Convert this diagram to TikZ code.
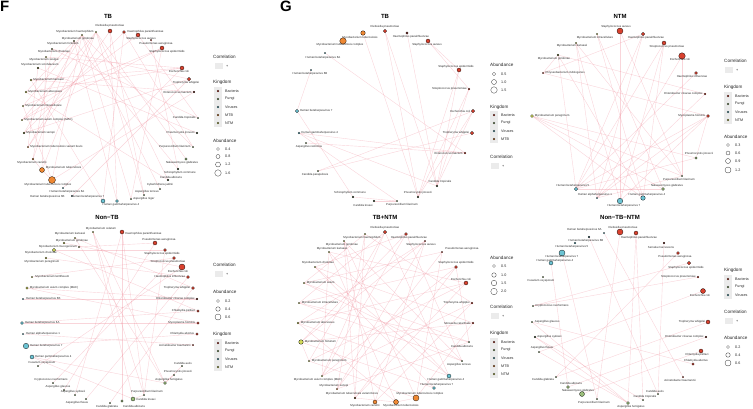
\documentclass[tikz,border=0pt]{standalone}
\usepackage{fontspec}
\setmainfont{Liberation Sans}
\usetikzlibrary{backgrounds}
\definecolor{bac}{HTML}{D9412E}
\definecolor{mtb}{HTML}{EE8833}
\definecolor{ntm}{HTML}{D4DC5A}
\definecolor{vir}{HTML}{6BC3D3}
\definecolor{fun}{HTML}{9BBE7B}
\definecolor{edgec}{HTML}{EC7F8E}
\definecolor{keybg}{HTML}{EBEBEB}
\tikzset{
 nd/.style={circle,draw=black,line width=0.25pt,inner sep=0pt},
 lab/.style={font=\fontsize{2.85}{3.4}\selectfont,inner sep=0.2pt,text=black!85},
 edge/.style={draw=edgec,line width=0.4pt,opacity=0.33},
 ptitle/.style={font=\bfseries\fontsize{6}{7}\selectfont,inner sep=0},
 plabel/.style={font=\bfseries\fontsize{15}{16}\selectfont,anchor=north west,inner sep=0},
 legt/.style={font=\fontsize{4.6}{5}\selectfont,anchor=west,inner sep=0,text=black!85},
 legi/.style={font=\fontsize{3.7}{4.4}\selectfont,anchor=west,inner sep=0,text=black!85},
 akey/.style={circle,draw=black!80,line width=0.3pt,fill=white,inner sep=0pt},
}
\newcommand\Nd[9]{\node[nd,minimum size=#4pt,fill=#5] (#1) at (#2,#3) {};\node[lab,anchor=#8] (#1l) at (#6,#7) {#9};}
\newcommand\Edges[1]{\begin{scope}[on background layer]\foreach \xa/\xb in {#1}{\draw[edge] (\xa) -- (\xb);}\end{scope}}
\newcommand\KK[5]{\node[nd,minimum size=2pt,fill=#4] (#1) at (#2,#3) {};\node[legi] (#1l) at (#2+7,#3) {#5};}
\newcommand\AK[5]{\node[akey,minimum size=#4pt] (#1) at (#2,#3) {};\node[legi] (#1l) at (#2+7,#3) {#5};}
\newcommand\CK[3]{\node[fill=keybg,minimum width=8pt,minimum height=6pt,inner sep=0] (#1) at (#2,#3) {};\node[legi] (#1l) at (#2+7,#3) {+};}
\begin{document}
\begin{tikzpicture}[x=1pt,y=-1pt]
\useasboundingbox (0,0) rectangle (753,408);
\node[plabel] (pF) at (0,1) {F};
\node[plabel] (pG) at (280,1) {G};
% ---------------- F: TB
\node[ptitle] (tA) at (108,16) {TB};
\Nd{a1}{110}{31}{4}{bac}{110}{26}{center}{Klebsiella pneumoniae}
\Nd{a2}{96}{32}{1.5}{ntm}{94}{32}{east}{Mycobacterium haemophilum}
\Nd{a3}{124}{32}{3}{bac}{127}{32}{west}{Haemophilus parainfluenzae}
\Nd{a4}{82}{35}{1.5}{ntm}{78}{39}{center}{Mycobacterium gordonae}
\Nd{a5}{138}{35}{4}{bac}{141}{39}{center}{Staphylococcus aureus}
\Nd{a6}{151}{40}{1.5}{bac}{156}{44}{center}{Pseudomonas aeruginosa}
\Nd{a7}{162}{48}{4}{bac}{167}{52}{center}{Staphylococcus epidermidis}
\Nd{a8}{74}{41}{1.2}{ntm}{63}{44}{center}{Mycobacterium fortuitum}
\Nd{a9}{52}{49}{1.2}{ntm}{54}{52}{center}{Mycobacterium chelonae}
\Nd{a10}{46}{57}{1.5}{ntm}{44}{60}{center}{Mycobacterium szulgai}
\Nd{a11}{38}{68}{1.8}{ntm}{40}{65}{center}{Mycobacterium scrofulaceum}
\Nd{a12}{31}{80}{2}{ntm}{33}{80}{west}{Mycobacterium kansasii}
\Nd{a13}{26}{92}{2}{ntm}{28}{92}{west}{Mycobacterium abscessus}
\Nd{a14}{23}{106}{1.5}{ntm}{25}{106}{west}{Mycobacterium intracellulare}
\Nd{a15}{22}{120}{1.5}{ntm}{24}{120}{west}{Mycobacterium avium complex (MAC)}
\Nd{a16}{24}{133}{1.8}{ntm}{26}{133}{west}{Mycobacterium xenopi}
\Nd{a17}{28}{147}{1.5}{mtb}{30}{147}{west}{Mycobacterium tuberculosis variant bovis}
\Nd{a18}{33}{159}{2}{mtb}{32}{163}{center}{Mycobacterium canettii}
\Nd{a19}{42}{170}{5}{mtb}{45.5}{168}{west}{Mycobacterium tuberculosis}
\Nd{a20}{52}{180}{7}{mtb}{48}{184.5}{center}{Mycobacterium tuberculosis complex}
\Nd{a21}{63}{188}{1.5}{vir}{67}{192}{center}{Human betaherpesvirus 6A}
\Nd{a22}{72}{196}{1.2}{vir}{65}{197}{east}{Human betaherpesvirus 6B}
\Nd{a23}{103}{201}{4}{vir}{88}{197}{center}{Human betaherpesvirus 7}
\Nd{a24}{117}{201}{3}{vir}{121}{205}{center}{Human gammaherpesvirus 4}
\Nd{a25}{131}{199}{1.5}{fun}{133}{199}{west}{Aspergillus niger}
\Nd{a26}{144}{195}{1.5}{fun}{147}{192}{center}{Aspergillus terreus}
\Nd{a27}{160}{189}{1.5}{fun}{160}{185}{center}{Cyberlindnera jadinii}
\Nd{a28}{168}{180}{1.8}{fun}{171}{177}{center}{Candida albicans}
\Nd{a29}{178}{169}{1.8}{fun}{180}{172.5}{center}{Schizophyllum commune}
\Nd{a30}{186}{159}{2.5}{fun}{182}{163}{center}{Nakaseomyces glabratus}
\Nd{a31}{193}{147}{1.5}{fun}{191}{147}{east}{Purpureocillium lilacinum}
\Nd{a32}{197}{133}{1.8}{fun}{195}{133}{east}{Pneumocystis jirovecii}
\Nd{a33}{198}{118}{1.5}{fun}{196}{118}{east}{Candida tropicalis}
\Nd{a34}{194}{92}{1.8}{bac}{192}{92}{east}{Enterococcus faecium}
\Nd{a35}{189}{79}{3.5}{bac}{186}{83}{center}{Tropheryma whipplei}
\Nd{a36}{182}{68}{4}{bac}{179}{71.5}{center}{Escherichia coli}
\Edges{a2/a28,a2/a26,a2/a30,a4/a25,a4/a27,a4/a31,a8/a29,a8/a24,a9/a33,a9/a35,a10/a36,a11/a32,a12/a34,a12/a23,a13/a36,a13/a28,a14/a20,a15/a5,a15/a7,a16/a3,a17/a1,a2/a19,a4/a20,a8/a18,a1/a26,a3/a31,a5/a33,a7/a25,a36/a21,a35/a22,a34/a20,a1/a24,a3/a23,a6/a29,a7/a14,a36/a12,a35/a16,a11/a17,a9/a18,a10/a19,a2/a15,a4/a14,a19/a20,a18/a19,a2/a17,a4/a16,a8/a13}
% legend F TB
\node[legt] (LAc) at (213,57) {Correlation};
\CK{LAck}{219}{66}
\node[legt] (LAk) at (213,82) {Kingdom};
\fill[keybg] (214,87) rectangle (222,127);
\KK{LAk1}{218}{91}{bac}{Bacteria}
\KK{LAk2}{218}{99}{fun}{Fungi}
\KK{LAk3}{218}{107}{vir}{Viruses}
\KK{LAk4}{218}{115}{mtb}{MTB}
\KK{LAk5}{218}{123}{ntm}{NTM}
\node[legt] (LAa) at (213,141) {Abundance};
\AK{LAa1}{218}{149}{3}{0.4}
\AK{LAa2}{218}{156.5}{4}{0.8}
\AK{LAa3}{218}{164.5}{5}{1.2}
\AK{LAa4}{218}{173}{6.5}{1.6}
% ---------------- F: Non-TB
\node[ptitle] (tB) at (107,217) {Non−TB};
\Nd{b1}{93}{232}{1.5}{ntm}{101}{228.5}{center}{Mycobacterium celatum}
\Nd{b2}{122}{232}{4}{bac}{125}{234}{west}{Haemophilus parainfluenzae}
\Nd{b3}{75}{238}{1.5}{ntm}{70}{234}{center}{Mycobacterium kansasii}
\Nd{b4}{64}{243}{2}{ntm}{72}{241}{center}{Mycobacterium gordonae}
\Nd{b5}{79}{247}{1.2}{ntm}{58}{247}{center}{Mycobacterium mucogenicum}
\Nd{b6}{54}{250}{3.5}{ntm}{41}{253}{center}{Mycobacterium chelonae}
\Nd{b7}{46}{258}{2}{ntm}{42}{262}{center}{Mycobacterium peregrinum}
\Nd{b8}{32}{277}{1.5}{ntm}{35}{277}{west}{Mycobacterium lentiflavum}
\Nd{b9}{27}{288}{2.5}{ntm}{29.5}{288}{west}{Mycobacterium avium complex (MAC)}
\Nd{b10}{23}{299}{1.5}{vir}{25.5}{299}{west}{Human betaherpesvirus 6B}
\Nd{b11}{22}{323}{3}{vir}{24.5}{323}{west}{Human betaherpesvirus 6A}
\Nd{b12}{23}{334}{1.5}{vir}{25.5}{334}{west}{Human alphaherpesvirus 1}
\Nd{b13}{26}{346}{5.5}{vir}{29.5}{346}{west}{Human betaherpesvirus 7}
\Nd{b14}{32}{357}{4}{vir}{34.5}{357}{west}{Human gammaherpesvirus 4}
\Nd{b15}{38}{366}{1.5}{fun}{42}{362.5}{center}{Fusarium oxysporum}
\Nd{b16}{53}{383}{1.5}{fun}{51}{380}{center}{Cryptococcus neoformans}
\Nd{b17}{64}{390}{1.5}{fun}{58}{387}{center}{Aspergillus glaucus}
\Nd{b18}{75}{395}{1.5}{fun}{73}{392}{center}{Aspergillus sydowii}
\Nd{b19}{86}{399}{1.5}{fun}{77}{403}{center}{Aspergillus flavus}
\Nd{b20}{110}{403}{1.5}{fun}{107}{406.5}{center}{Candida glabrata}
\Nd{b21}{122}{401}{2.5}{fun}{134}{406.5}{center}{Candida albicans}
\Nd{b22}{133}{399}{4}{fun}{136}{399}{west}{Candida krusei}
\Nd{b23}{144}{395}{1.5}{fun}{147}{392}{center}{Purpureocillium lilacinum}
\Nd{b24}{165}{383}{3}{fun}{169}{380}{center}{Aspergillus fumigatus}
\Nd{b25}{174}{375}{1.5}{fun}{178}{372}{center}{Pneumocystis jirovecii}
\Nd{b26}{182}{366}{1.5}{fun}{183}{363}{center}{Candida auris}
\Nd{b27}{193}{345}{1.5}{bac}{191}{345}{east}{Acinetobacter baumannii}
\Nd{b28}{197}{334}{2.5}{bac}{194.5}{334}{east}{Chlamydia abortus}
\Nd{b29}{198}{323}{2.5}{bac}{195.5}{323}{east}{Mycoplasma hominis}
\Nd{b30}{198}{311}{2.5}{bac}{195.5}{311}{east}{Chlamydia psittaci}
\Nd{b31}{197}{299}{1.8}{bac}{195}{299}{east}{Enterobacter cloacae complex}
\Nd{b32}{193}{288}{3}{bac}{190.5}{288}{east}{Tropheryma whipplei}
\Nd{b33}{188}{277}{3}{bac}{185.5}{277}{east}{Haemophilus influenzae}
\Nd{b34}{182}{267}{6}{bac}{178}{271.5}{center}{Escherichia coli}
\Nd{b35}{174}{258}{3}{bac}{168}{262}{center}{Streptococcus pneumoniae}
\Nd{b36}{165}{250}{3}{bac}{162}{254}{center}{Staphylococcus epidermidis}
\Nd{b37}{155}{243}{4}{bac}{159}{240}{center}{Pseudomonas aeruginosa}
\Edges{b1/b23,b1/b24,b2/b23,b2/b21,b3/b32,b4/b34,b6/b36,b6/b30,b7/b33,b9/b29,b9/b31,b11/b29,b11/b30,b13/b28,b12/b27,b14/b24,b14/b22,b37/b17,b35/b16,b34/b15,b36/b23,b1/b22,b3/b24,b8/b35,b10/b31,b5/b37,b2/b18,b33/b19,b32/b20,b26/b24,b22/b23,b24/b25}
\node[legt] (LBc) at (213,265) {Correlation};
\CK{LBck}{219}{274}
\node[legt] (LBa) at (213,292) {Abundance};
\AK{LBa1}{218}{301}{3}{0.2}
\AK{LBa2}{218}{309}{4.5}{0.4}
\AK{LBa3}{218}{317}{6}{0.6}
\node[legt] (LBk) at (213,334) {Kingdom};
\fill[keybg] (214,339) rectangle (222,371);
\KK{LBk1}{218}{343}{bac}{Bacteria}
\KK{LBk2}{218}{351}{fun}{Fungi}
\KK{LBk3}{218}{359}{vir}{Viruses}
\KK{LBk4}{218}{367}{ntm}{NTM}
% ---------------- G: TB
\node[ptitle] (tC) at (385,16) {TB};
\Nd{c1}{385}{31}{3.5}{bac}{385}{27}{center}{Klebsiella pneumoniae}
\Nd{c2}{363}{33}{4.5}{mtb}{360}{37.5}{center}{Mycobacterium tuberculosis}
\Nd{c3}{343}{41}{6.5}{mtb}{340}{45}{center}{Mycobacterium tuberculosis complex}
\Nd{c4}{407}{33}{2.2}{bac}{411}{37}{center}{Haemophilus parainfluenzae}
\Nd{c5}{428}{41}{4}{bac}{427}{45}{center}{Staphylococcus aureus}
\Nd{c6}{325}{53}{1.5}{vir}{323}{58}{center}{Human betaherpesvirus 6A}
\Nd{c7}{311}{70}{1.5}{vir}{310}{74}{center}{Human betaherpesvirus 6B}
\Nd{c8}{459}{70}{4}{bac}{456}{67}{center}{Staphylococcus epidermidis}
\Nd{c9}{469}{89}{2}{bac}{467}{89}{east}{Streptococcus pneumoniae}
\Nd{c10}{297}{111}{3.5}{vir}{299.5}{111}{west}{Human betaherpesvirus 7}
\Nd{c11}{473}{111}{3.5}{bac}{470.5}{111}{east}{Escherichia coli}
\Nd{c12}{299}{133}{2}{vir}{301}{133}{west}{Human gammaherpesvirus 4}
\Nd{c13}{472}{133}{3.5}{bac}{469.5}{133}{east}{Tropheryma whipplei}
\Nd{c14}{306}{143}{1.5}{fun}{309}{147}{center}{Aspergillus restrictus}
\Nd{c15}{465}{153}{2}{bac}{463}{153}{east}{Enterococcus faecium}
\Nd{c16}{318}{171}{1.5}{fun}{315}{174.5}{center}{Candida parapsilosis}
\Nd{c17}{437}{186}{1.8}{fun}{440}{182}{center}{Candida tropicalis}
\Nd{c18}{353}{197}{1.8}{fun}{350}{193}{center}{Schizophyllum commune}
\Nd{c19}{418}{197}{1.8}{fun}{418}{193}{center}{Pneumocystis jirovecii}
\Nd{c20}{374}{201}{1.8}{fun}{363}{205}{center}{Candida krusei}
\Nd{c21}{397}{201}{1.5}{fun}{402}{205}{center}{Purpureocillium lilacinum}
\Edges{c1/c19,c1/c17,c4/c17,c5/c9,c5/c8,c6/c15,c7/c10,c8/c17,c8/c19,c9/c17,c11/c17,c11/c19,c12/c15,c12/c21,c12/c17,c10/c18,c13/c16,c15/c14,c11/c16,c18/c21,c20/c21,c9/c19,c2/c19}
\node[legt] (LCa) at (490,65) {Abundance};
\AK{LCa1}{494}{74}{3.5}{0.5}
\AK{LCa2}{494}{82}{5}{1.0}
\AK{LCa3}{494}{90}{6.5}{1.5}
\node[legt] (LCk) at (490,107) {Kingdom};
\fill[keybg] (490,111) rectangle (498,143);
\KK{LCk1}{494}{115}{bac}{Bacteria}
\KK{LCk2}{494}{123}{fun}{Fungi}
\KK{LCk3}{494}{131}{vir}{Viruses}
\KK{LCk4}{494}{139}{mtb}{MTB}
\node[legt] (LCc) at (490,157) {Correlation};
\CK{LCck}{495}{166}
% ---------------- G: NTM
\node[ptitle] (tD) at (620,16) {NTM};
\Nd{d1}{620}{31}{6}{bac}{616}{26.5}{center}{Staphylococcus aureus}
\Nd{d2}{597}{34}{1.5}{ntm}{595}{37.5}{center}{Mycobacterium intracellulare}
\Nd{d3}{643}{34}{3.5}{bac}{646}{37.5}{center}{Haemophilus parainfluenzae}
\Nd{d4}{576}{43}{1.5}{ntm}{572}{46}{center}{Mycobacterium kansasii}
\Nd{d5}{664}{43}{4}{bac}{667}{46.5}{center}{Streptococcus pneumoniae}
\Nd{d6}{558}{55}{1.8}{ntm}{554}{59}{center}{Mycobacterium gordonae}
\Nd{d7}{682}{56}{6.5}{bac}{680}{59.5}{center}{Escherichia coli}
\Nd{d8}{543}{73}{1.5}{bac}{545}{73}{west}{Chryseobacterium indologenes}
\Nd{d9}{696}{73}{3}{bac}{692}{77}{center}{Haemophilus influenzae}
\Nd{d10}{705}{94}{2}{bac}{703}{94}{east}{Enterobacter cloacae complex}
\Nd{d11}{532}{116}{3}{ntm}{534.5}{116}{west}{Mycobacterium peregrinum}
\Nd{d12}{708}{116}{3}{bac}{705.5}{116}{east}{Mycoplasma hominis}
\Nd{d13}{696}{158}{2.5}{fun}{699}{154}{center}{Pneumocystis jirovecii}
\Nd{d14}{682}{176}{1.5}{fun}{679}{180}{center}{Purpureocillium lilacinum}
\Nd{d15}{576}{189}{3.5}{vir}{573}{186}{center}{Human betaherpesvirus 5}
\Nd{d16}{663}{189}{3}{fun}{667}{186}{center}{Nakaseomyces glabratus}
\Nd{d17}{597}{198}{1.5}{vir}{595}{195}{center}{Human alphaherpesvirus 1}
\Nd{d18}{643}{198}{4.5}{vir}{647}{195}{center}{Human gammaherpesvirus 4}
\Nd{d19}{620}{201}{5.5}{vir}{624}{205.5}{center}{Human betaherpesvirus 7}
\Edges{d11/d13,d11/d14,d11/d18,d11/d16,d8/d12,d8/d3,d12/d15,d12/d17,d12/d19,d12/d13,d1/d19,d1/d14,d2/d18,d2/d16,d4/d17,d4/d14,d4/d19,d6/d18,d6/d15,d6/d10,d3/d15,d3/d17,d5/d15,d5/d19,d7/d17,d7/d14,d9/d15,d10/d17,d13/d15,d14/d17,d16/d15,d6/d8,d5/d18}
\node[legt] (LDc) at (724,61) {Correlation};
\CK{LDck}{729}{70}
\node[legt] (LDk) at (724,87) {Kingdom};
\fill[keybg] (724,92) rectangle (732,124);
\KK{LDk1}{728}{96}{bac}{Bacteria}
\KK{LDk2}{728}{104}{fun}{Fungi}
\KK{LDk3}{728}{112}{vir}{Viruses}
\KK{LDk4}{728}{120}{ntm}{NTM}
\node[legt] (LDa) at (724,137) {Abundance};
\AK{LDa1}{728}{145}{3}{0.3}
\AK{LDa2}{728}{153}{4}{0.6}
\AK{LDa3}{728}{161}{5}{0.9}
\AK{LDa4}{728}{170}{6}{1.2}
% ---------------- G: TB+NTM
\node[ptitle] (tE) at (385,217) {TB+NTM};
\Nd{e1}{385}{232}{3.5}{bac}{385}{228}{center}{Klebsiella pneumoniae}
\Nd{e2}{365}{234}{1.5}{ntm}{362}{237.5}{center}{Mycobacterium haemophilum}
\Nd{e3}{406}{234}{3}{bac}{409}{237.5}{center}{Haemophilus parainfluenzae}
\Nd{e4}{344}{241}{1.5}{ntm}{342}{244.5}{center}{Mycobacterium gordonae}
\Nd{e5}{329}{252}{1.5}{ntm}{332}{249}{center}{Mycobacterium kansasii}
\Nd{e6}{425}{241}{1.5}{bac}{421}{244.5}{center}{Staphylococcus aureus}
\Nd{e7}{442}{252}{1.5}{bac}{445}{249}{west}{Pseudomonas aeruginosa}
\Nd{e8}{315}{267}{1.5}{ntm}{318}{263}{center}{Mycobacterium chelonae}
\Nd{e9}{456}{267}{3}{bac}{456}{263}{center}{Staphylococcus epidermidis}
\Nd{e10}{304}{283}{1.5}{ntm}{306.5}{283}{west}{Mycobacterium avium}
\Nd{e11}{466}{283}{4}{bac}{461}{279.5}{center}{Escherichia coli}
\Nd{e12}{299}{303}{1.5}{ntm}{301.5}{303}{west}{Mycobacterium intracellulare}
\Nd{e13}{472}{303}{2}{bac}{470}{303}{east}{Tropheryma whipplei}
\Nd{e14}{298}{323}{2}{ntm}{300.5}{323}{west}{Mycobacterium abscessus}
\Nd{e15}{473}{323}{2}{bac}{471}{323}{east}{Moraxella catarrhalis}
\Nd{e16}{301}{342}{4.5}{ntm}{304.5}{342}{west}{Mycobacterium fortuitum}
\Nd{e17}{469}{342}{1.5}{fun}{462}{346}{center}{Candida albicans}
\Nd{e18}{309}{361}{1.5}{ntm}{311.5}{361}{west}{Mycobacterium peregrinum}
\Nd{e19}{462}{361}{1.5}{fun}{459}{364.5}{center}{Aspergillus terreus}
\Nd{e20}{322}{376}{1.5}{ntm}{318}{380}{center}{Mycobacterium avium complex (MAC)}
\Nd{e21}{449}{376}{4}{vir}{446}{380}{center}{Human gammaherpesvirus 4}
\Nd{e22}{337}{389}{1.5}{mtb}{334}{385.5}{center}{Mycobacterium xenopi}
\Nd{e23}{434}{388}{3}{vir}{437}{384.5}{center}{Human betaherpesvirus 7}
\Nd{e24}{355}{398}{1.8}{mtb}{352}{394}{center}{Mycobacterium tuberculosis variant bovis}
\Nd{e25}{416}{398}{6}{mtb}{420}{394}{center}{Mycobacterium tuberculosis complex}
\Nd{e26}{375}{402}{4}{mtb}{365}{406}{center}{Mycobacterium canettii}
\Nd{e27}{396}{402}{5}{mtb}{401}{406}{center}{Mycobacterium tuberculosis}
\Edges{e1/e20,e1/e18,e2/e22,e2/e24,e2/e13,e3/e20,e3/e16,e4/e26,e4/e19,e5/e27,e5/e11,e6/e14,e6/e22,e7/e10,e7/e25,e8/e15,e8/e21,e9/e12,e9/e24,e10/e17,e11/e18,e12/e19,e13/e20,e14/e21,e15/e16,e16/e23,e17/e22,e18/e25,e19/e10,e20/e9,e21/e5,e22/e7,e23/e8,e24/e11,e25/e4,e26/e6,e27/e14,e1/e12,e3/e8,e5/e20,e4/e24,e2/e10,e6/e16,e11/e14,e13/e26,e15/e25,e17/e12,e19/e3,e21/e1,e9/e17,e16/e18,e24/e27,e25/e27}
\node[legt] (LEa) at (490,258) {Abundance};
\AK{LEa1}{494}{266}{3}{0.5}
\AK{LEa2}{494}{275}{4.5}{1.0}
\AK{LEa3}{494}{283}{5.5}{1.5}
\AK{LEa4}{494}{291.5}{6.5}{2.0}
\node[legt] (LEc) at (490,307) {Correlation};
\CK{LEck}{495}{316}
\node[legt] (LEk) at (490,333) {Kingdom};
\fill[keybg] (490,338) rectangle (498,378);
\KK{LEk1}{494}{342}{bac}{Bacteria}
\KK{LEk2}{494}{350}{fun}{Fungi}
\KK{LEk3}{494}{358}{vir}{Viruses}
\KK{LEk4}{494}{366}{mtb}{MTB}
\KK{LEk5}{494}{374}{ntm}{NTM}
% ---------------- G: Non-TB-NTM
\node[ptitle] (tF) at (620,217) {Non−TB−NTM};
\Nd{f1}{620}{232}{6}{bac}{623}{228}{center}{Klebsiella pneumoniae}
\Nd{f2}{636}{233}{4}{bac}{639}{237.5}{center}{Haemophilus parainfluenzae}
\Nd{f3}{604}{233}{1.5}{vir}{602}{230}{east}{Human betaherpesvirus 6A}
\Nd{f4}{589}{237}{1.8}{vir}{586}{241}{center}{Human betaherpesvirus 6B}
\Nd{f5}{575}{243}{2}{vir}{572}{247}{center}{Human betaherpesvirus 5}
\Nd{f6}{562}{253}{6}{vir}{562}{256.5}{center}{Human betaherpesvirus 7}
\Nd{f7}{551}{263}{4}{vir}{555}{260.5}{center}{Human gammaherpesvirus 4}
\Nd{f8}{543}{277}{1.5}{fun}{541}{281}{center}{Fusarium oxysporum}
\Nd{f9}{664}{243}{1.8}{bac}{661}{247}{center}{Serratia marcescens}
\Nd{f10}{678}{253}{3}{bac}{675}{257}{center}{Pseudomonas aeruginosa}
\Nd{f11}{689}{263}{3.5}{bac}{686}{268}{center}{Staphylococcus epidermidis}
\Nd{f12}{698}{277}{2}{bac}{696}{277}{east}{Streptococcus pneumoniae}
\Nd{f13}{703}{291}{5}{bac}{700}{295.5}{center}{Escherichia coli}
\Nd{f14}{533}{306}{1.5}{fun}{535}{306}{west}{Cryptococcus neoformans}
\Nd{f15}{708}{322}{4}{bac}{705.5}{322}{east}{Tropheryma whipplei}
\Nd{f16}{532}{322}{1.5}{fun}{534.5}{322}{west}{Aspergillus glaucus}
\Nd{f17}{706}{337}{1.8}{bac}{704}{337}{east}{Enterobacter cloacae complex}
\Nd{f18}{535}{337}{1.8}{fun}{537}{337}{west}{Aspergillus sydowii}
\Nd{f19}{539}{352}{1.5}{fun}{542}{348}{center}{Aspergillus flavus}
\Nd{f20}{701}{351}{4}{bac}{697}{354.5}{center}{Chlamydia psittaci}
\Nd{f21}{693}{364}{2.5}{bac}{696}{360.5}{center}{Chlamydia abortus}
\Nd{f22}{556}{377}{1.5}{fun}{543}{380}{center}{Candida glabrata}
\Nd{f23}{683}{377}{1.5}{bac}{680}{380.5}{center}{Acinetobacter baumannii}
\Nd{f24}{568}{387}{3}{fun}{571}{383}{center}{Candida albicans}
\Nd{f25}{582}{394}{5}{fun}{578}{390.5}{center}{Nakaseomyces glabratus}
\Nd{f26}{597}{399}{1.5}{fun}{594}{403}{center}{Purpureocillium lilacinum}
\Nd{f27}{628}{403}{3}{fun}{631}{406.5}{center}{Aspergillus fumigatus}
\Nd{f28}{643}{400}{1.5}{fun}{645}{396.5}{center}{Candida tropicalis}
\Nd{f29}{658}{394}{1.5}{fun}{655}{391}{center}{Candida auris}
\Edges{f18/f27,f19/f27,f16/f27,f18/f28,f1/f26,f2/f28,f2/f27,f6/f26,f7/f24,f10/f22,f11/f14,f9/f29,f3/f23,f13/f19,f20/f25,f21/f16,f12/f14,f4/f29,f15/f22,f17/f24}
\node[legt] (LFk) at (724,270) {Kingdom};
\fill[keybg] (724,275) rectangle (732,299);
\KK{LFk1}{728}{279}{bac}{Bacteria}
\KK{LFk2}{728}{287}{fun}{Fungi}
\KK{LFk3}{728}{295}{vir}{Viruses}
\node[legt] (LFc) at (724,312) {Correlation};
\CK{LFck}{729}{321}
\node[legt] (LFa) at (724,338) {Abundance};
\AK{LFa1}{728}{347}{3}{0.2}
\AK{LFa2}{728}{355}{4.5}{0.4}
\AK{LFa3}{728}{363}{6}{0.6}
\end{tikzpicture}
\end{document}
